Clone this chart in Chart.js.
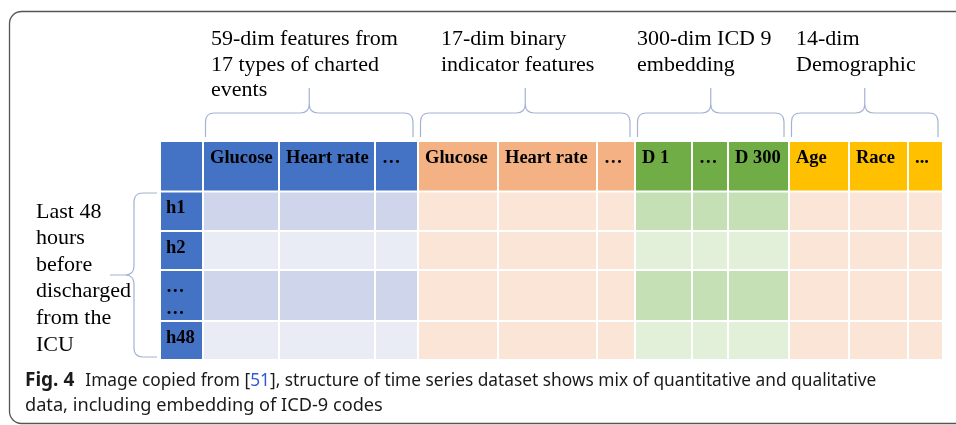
<!DOCTYPE html>
<html>
<head>
<meta charset="utf-8">
<script src="https://cdn.jsdelivr.net/npm/chart.js@4.4.1/dist/chart.umd.min.js"></script>
<style>
  html, body { margin: 0; padding: 0; background: #ffffff; }
  #wrap { width: 956px; height: 425px; }
</style>
</head>
<body>
<div id="wrap"><canvas id="c" width="956" height="425"></canvas></div>
<script>
// ---------------- DATA ----------------
const columnLabels = ['', 'Glucose', 'Heart rate', '\u2026', 'Glucose', 'Heart rate', '\u2026', 'D 1', '\u2026', 'D 300', 'Age', 'Race', '...'];
const columnGroups = ['time', 'charted', 'charted', 'charted', 'binary', 'binary', 'binary', 'icd', 'icd', 'icd', 'demo', 'demo', 'demo'];
const rowLabels = [['h1'], ['h2'], ['\u2026', '\u2026'], ['h48']];
const rowShade = [1, 0, 1, 0];               // 1 = darker band, 0 = lighter band
const groupOrder = ['charted', 'binary', 'icd', 'demo'];
const groupTitles = [
  ['59-dim features from', '17 types of charted', 'events'],
  ['17-dim binary', 'indicator features'],
  ['300-dim ICD 9', 'embedding'],
  ['14-dim', 'Demographic']
];
const sideNote = ['Last 48', 'hours', 'before', 'discharged', 'from the', 'ICU'];
const captionLabel = 'Fig. 4';
const captionParts = ['Image copied from [', '51', '], structure of time series dataset shows mix of quantitative and qualitative'];
const captionLine2 = 'data, including embedding of ICD-9 codes';

// ---------------- LAYOUT / STYLE ----------------
const layout = {
  colEdges: [160, 203, 279, 375, 418, 498, 597, 635, 692, 728, 789, 849, 908, 943],
  rowEdges: [141, 191.5, 231, 270, 321, 360],
  cellGap: 1,
  labelPadX: 7, labelBaseOff: 21.5, labelLineH: 22,
  titleX: [211, 441, 637, 796], titleBase: 45, titleLineH: 25.5,
  braceTop: 88, braceMid: 113, braceBottom: 137, braceR: 9,
  braceInsetL: 2.5, braceInsetR: 5,
  sideX: 36, sideBase: 217.5, sideLineH: 26.6,
  leftBrace: { xEnd: 157, xMid: 134, xTip: 110, top: 193, bottom: 357, r: 9 },
  frame: { x: 9.5, y: 11.5, right: 975, bottom: 423.5, r: 12 },
  cap: { x: 25, gapAfterLabel: 11, base1: 386, base2: 411, lineWidth: 852, line2Width: 358 }
};
const colors = {
  header: { time: '#4472C4', charted: '#4472C4', binary: '#F4B183', icd: '#70AD47', demo: '#FFC000' },
  body: {
    time: ['#4472C4', '#4472C4'],
    charted: ['#E9EBF5', '#CFD5EA'],
    binary: ['#FBE5D6', '#FBE5D6'],
    icd: ['#E2F0D9', '#C5E0B4'],
    demo: ['#FBE5D6', '#FBE5D6']
  },
  brace: '#A3B3D3',
  text: '#000000',
  frame: '#555555',
  caption: '#1a1a1a',
  link: '#2E5BD6'
};
const serif = '"Liberation Serif", "Times New Roman", serif';
const sans = '"Noto Sans", "Open Sans", sans-serif';

// ---------------- DRAWING PLUGIN ----------------
const tablePlugin = {
  id: 'tablePlugin',
  afterDraw(chart) {
    const ctx = chart.ctx;
    const xs = chart.scales.x, ys = chart.scales.y;
    const X = v => xs.getPixelForValue(v);
    const Y = v => ys.getPixelForValue(v);
    const g = layout.cellGap;
    ctx.save();

    // frame
    const f = layout.frame;
    ctx.strokeStyle = colors.frame;
    ctx.lineWidth = 1.3;
    ctx.beginPath();
    ctx.roundRect(X(f.x), Y(f.y), X(f.right) - X(f.x), Y(f.bottom) - Y(f.y), f.r);
    ctx.stroke();

    // cells
    const nRows = rowLabels.length + 1;
    for (let r = 0; r < nRows; r++) {
      for (let c = 0; c < columnLabels.length; c++) {
        const grp = columnGroups[c];
        let fill;
        if (r === 0) fill = colors.header[grp];
        else fill = colors.body[grp][rowShade[r - 1]];
        const x0 = X(layout.colEdges[c]) + g, x1 = X(layout.colEdges[c + 1]) - g;
        const y0 = Y(layout.rowEdges[r]) + g, y1 = Y(layout.rowEdges[r + 1]) - g;
        ctx.fillStyle = fill;
        ctx.fillRect(x0, y0, x1 - x0, y1 - y0);
      }
    }

    // header labels
    ctx.fillStyle = colors.text;
    ctx.textBaseline = 'alphabetic';
    ctx.textAlign = 'left';
    ctx.font = 'bold 18.5px ' + serif;
    columnLabels.forEach((lab, c) => {
      if (!lab) return;
      ctx.fillText(lab, X(layout.colEdges[c]) + layout.labelPadX, Y(layout.rowEdges[0] + layout.labelBaseOff));
    });
    // row labels
    rowLabels.forEach((lines, i) => {
      lines.forEach((t, k) => {
        ctx.fillText(t, X(layout.colEdges[0]) + 6, Y(layout.rowEdges[i + 1] + layout.labelBaseOff + k * layout.labelLineH));
      });
    });

    // group titles
    ctx.font = '22px ' + serif;
    groupTitles.forEach((lines, gi) => {
      lines.forEach((t, k) => {
        ctx.fillText(t, X(layout.titleX[gi]), Y(layout.titleBase + k * layout.titleLineH));
      });
    });

    // top braces
    ctx.strokeStyle = colors.brace;
    ctx.lineWidth = 1.2;
    groupOrder.forEach(grp => {
      const first = columnGroups.indexOf(grp), last = columnGroups.lastIndexOf(grp);
      const a = X(layout.colEdges[first] + layout.braceInsetL);
      const b = X(layout.colEdges[last + 1] - layout.braceInsetR);
      const cx = (a + b) / 2;
      const yt = Y(layout.braceTop), ym = Y(layout.braceMid), yb = Y(layout.braceBottom);
      const rr = layout.braceR;
      ctx.beginPath();
      ctx.moveTo(a, yb);
      ctx.lineTo(a, ym + rr);
      ctx.quadraticCurveTo(a, ym, a + rr, ym);
      ctx.lineTo(cx - rr, ym);
      ctx.quadraticCurveTo(cx, ym, cx, ym - rr);
      ctx.lineTo(cx, yt);
      ctx.moveTo(cx, ym - rr);
      ctx.quadraticCurveTo(cx, ym, cx + rr, ym);
      ctx.lineTo(b - rr, ym);
      ctx.quadraticCurveTo(b, ym, b, ym + rr);
      ctx.lineTo(b, yb);
      ctx.stroke();
    });

    // left brace
    const lb = layout.leftBrace;
    const xe = X(lb.xEnd), xm = X(lb.xMid), xt = X(lb.xTip);
    const yT = Y(lb.top), yB = Y(lb.bottom), yC = (yT + yB) / 2;
    ctx.beginPath();
    ctx.moveTo(xe, yT);
    ctx.lineTo(xm + lb.r, yT);
    ctx.quadraticCurveTo(xm, yT, xm, yT + lb.r);
    ctx.lineTo(xm, yC - lb.r);
    ctx.quadraticCurveTo(xm, yC, xm - lb.r, yC);
    ctx.lineTo(xt, yC);
    ctx.moveTo(xm - lb.r, yC);
    ctx.quadraticCurveTo(xm, yC, xm, yC + lb.r);
    ctx.lineTo(xm, yB - lb.r);
    ctx.quadraticCurveTo(xm, yB, xm + lb.r, yB);
    ctx.lineTo(xe, yB);
    ctx.stroke();

    // side note
    ctx.fillStyle = colors.text;
    ctx.font = '22px ' + serif;
    sideNote.forEach((t, k) => {
      ctx.fillText(t, X(layout.sideX), Y(layout.sideBase + k * layout.sideLineH));
    });

    // caption
    const cp = layout.cap;
    ctx.font = 'bold 19px ' + sans;
    const labW = ctx.measureText(captionLabel).width;
    ctx.font = '18px ' + sans;
    const restW = ctx.measureText(captionParts.join('')).width;
    const l2W = ctx.measureText(captionLine2).width;
    const fs1 = 18 * (cp.lineWidth - labW - cp.gapAfterLabel) / restW;
    const fs2 = Math.min(19, 18 * cp.line2Width / l2W);
    ctx.fillStyle = colors.caption;
    ctx.font = 'bold 19px ' + sans;
    ctx.fillText(captionLabel, X(cp.x), Y(cp.base1));
    let cx = X(cp.x) + labW + cp.gapAfterLabel;
    ctx.font = fs1.toFixed(2) + 'px ' + sans;
    captionParts.forEach((t, i) => {
      ctx.fillStyle = i === 1 ? colors.link : colors.caption;
      ctx.fillText(t, cx, Y(cp.base1));
      cx += ctx.measureText(t).width;
    });
    ctx.fillStyle = colors.caption;
    ctx.font = fs2.toFixed(2) + 'px ' + sans;
    ctx.fillText(captionLine2, X(cp.x), Y(cp.base2));

    ctx.restore();
  }
};

new Chart(document.getElementById('c'), {
  type: 'scatter',
  data: { datasets: [{ data: [], showLine: false }] },
  options: {
    responsive: false,
    animation: false,
    devicePixelRatio: 1,
    layout: { padding: 0 },
    plugins: { legend: { display: false }, tooltip: { enabled: false }, title: { display: false } },
    scales: {
      x: { type: 'linear', min: 0, max: 956, display: false },
      y: { type: 'linear', min: 0, max: 425, reverse: true, display: false }
    }
  },
  plugins: [tablePlugin]
});
</script>
</body>
</html>
